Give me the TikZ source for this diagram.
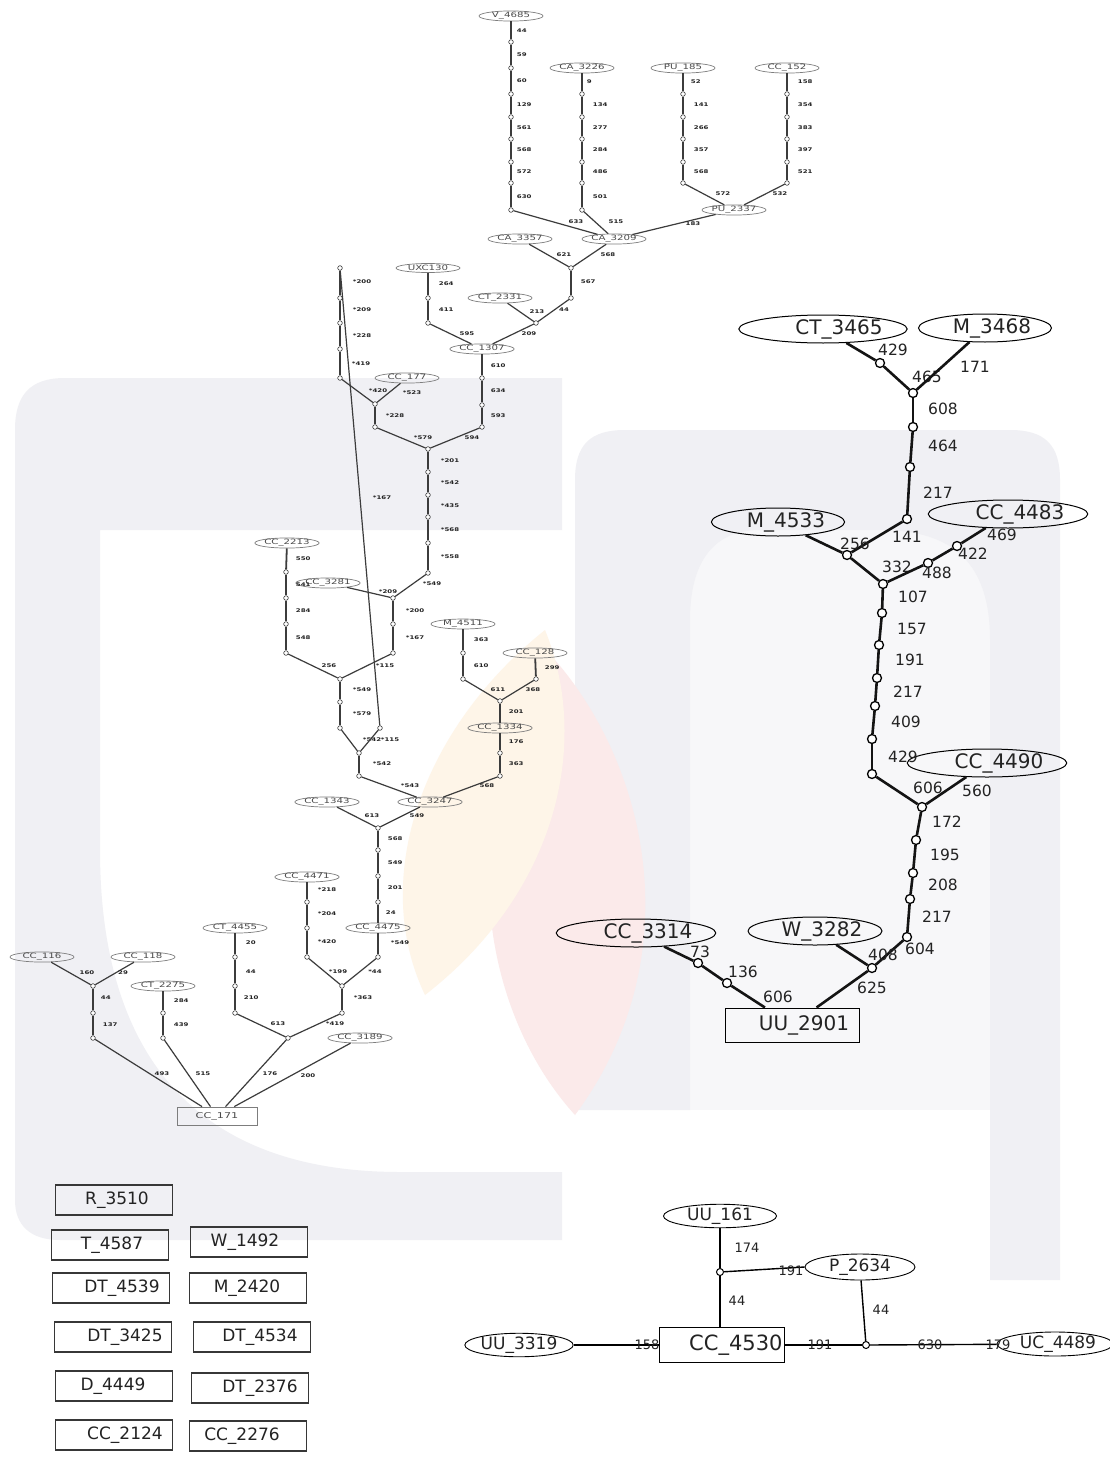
\documentclass[tikz,border=0pt]{standalone}
\usepackage{fontspec}
\setmainfont{DejaVu Sans}
\newfontfamily\stf[FakeStretch=1.4]{DejaVu Sans}
\usetikzlibrary{shapes.geometric}
\definecolor{wmg}{RGB}{240,240,244}
\definecolor{wml}{RGB}{247,247,249}
\definecolor{wmp}{RGB}{251,234,234}
\definecolor{wmy}{RGB}{254,245,232}
\definecolor{snline}{RGB}{125,125,125}
\definecolor{sntext}{RGB}{75,75,75}
\definecolor{sedge}{RGB}{60,60,60}
\definecolor{slab}{RGB}{35,35,35}
\definecolor{bline}{RGB}{20,20,20}
\definecolor{btext}{RGB}{35,35,35}
\definecolor{lgline}{RGB}{55,55,55}
\tikzset{
  sn/.style={ellipse, draw=snline, line width=0.7pt, minimum width=64pt, minimum height=9pt, inner sep=0pt, font=\stf\fontsize{7.3}{8}\selectfont, text=sntext},
  srect/.style={rectangle, draw=snline, line width=0.8pt, minimum width=80pt, minimum height=18pt, inner sep=0pt, font=\stf\fontsize{8}{9}\selectfont, text=sntext},
  sc/.style={circle, draw=sedge, fill=white, line width=0.6pt, minimum size=4.6pt, inner sep=0pt},
  se/.style={draw=sedge, line width=1.2pt},
  sev/.style={draw=sedge, line width=1.8pt},
  sl/.style={font=\stf\bfseries\fontsize{5}{6}\selectfont, text=slab, inner sep=0pt},
  bn/.style={ellipse, draw=black, line width=1pt, minimum width=133pt, minimum height=28pt, inner sep=0pt, font=\fontsize{20}{22}\selectfont, text=btext},
  bc/.style={circle, draw=black, fill=white, line width=1.3pt, minimum size=9pt, inner sep=0pt},
  be/.style={draw=bline, line width=2.6pt},
  bl/.style={font=\fontsize{15.5}{17}\selectfont, text=btext, inner sep=0pt},
  gn/.style={ellipse, draw=black, line width=0.9pt, inner sep=0pt, font=\fontsize{17}{19}\selectfont, text=btext},
  gc/.style={circle, draw=black, fill=white, line width=1pt, minimum size=7pt, inner sep=0pt},
  ge/.style={draw=black, line width=1.4pt},
  gl/.style={font=\fontsize{13}{15}\selectfont, text=btext, inner sep=0pt},
  lg/.style={rectangle, draw=lgline, line width=1.3pt, minimum width=117pt, minimum height=30pt, inner sep=0pt, font=\fontsize{17}{19}\selectfont, text=btext}
}
\newcommand\SN[3]{\node[sn] (#1) at (#2) {#3};}
\newcommand\SC[2]{\node[sc] (#1) at (#2) {};}
\newcommand\SE[4]{\draw[se] (#1) -- (#2) node[sl] (l#1#2) at (#3) {#4};}
\newcommand\SV[4]{\draw[sev] (#1) -- (#2) node[sl,anchor=west] (l#1#2) at (#3) {#4};}
\newcommand\BN[4]{\node[bn] (#1) at (#2) {\hspace*{#3}#4};}
\newcommand\BC[2]{\node[bc] (#1) at (#2) {};}
\newcommand\BE[4]{\draw[be] (#1) -- (#2) node[bl] (l#1#2) at (#3) {#4};}
\newcommand\LG[4]{\node[lg] (#1) at (#2) {\hspace*{#3}#4};}
\begin{document}
\begin{tikzpicture}[x=1pt,y=-1pt]
\useasboundingbox (0,0) rectangle (1110,1458);
\fill[white] (0,0) rectangle (1110,1458);
% ---- watermark ----
\fill[wmg] (15,1200) -- (15,430) .. controls (15,395) and (30,378) .. (65,378) -- (562,378) -- (562,530) -- (100,530) -- (100,850) .. controls (100,1060) and (200,1172) .. (400,1172) -- (562,1172) -- (562,1240) -- (60,1240) .. controls (30,1240) and (15,1225) .. (15,1200) -- cycle;
\fill[wml] (690,530) rectangle (990,1110);
\fill[wmg] (575,1110) -- (575,480) .. controls (575,445) and (590,430) .. (625,430) -- (1010,430) .. controls (1045,430) and (1060,445) .. (1060,480) -- (1060,1280) -- (990,1280) -- (990,640) .. controls (990,565) and (955,530) .. (880,530) -- (760,530) .. controls (715,530) and (690,560) .. (690,620) -- (690,1110) -- cycle;
\fill[wmp] (555,660) .. controls (650,770) and (690,960) .. (575,1115) .. controls (480,1010) and (450,820) .. (555,660) -- cycle;
\fill[wmy] (545,630) .. controls (590,740) and (560,890) .. (425,995) .. controls (370,880) and (420,730) .. (545,630) -- cycle;
% ---- upper-left tree: nodes ----
\SN{v4685}{511,16}{V\_4685}
\SN{ca3226}{582,68}{CA\_3226}
\SN{pu185}{683,68}{PU\_185}
\SN{cc152}{787,68}{CC\_152}
\SN{pu2337}{734,210}{PU\_2337}
\SN{ca3209}{614,239}{CA\_3209}
\SN{ca3357}{520,239}{CA\_3357}
\SN{ct2331}{500,298}{CT\_2331}
\SN{uxc130}{428,268}{UXC130}
\SN{cc1307}{482,349}{CC\_1307}
\SN{cc177}{407,378}{CC\_177}
\SN{cc2213}{287,543}{CC\_2213}
\SN{cc3281}{328,583}{CC\_3281}
\SN{m4511}{463,624}{M\_4511}
\SN{cc128}{535,653}{CC\_128}
\SN{cc1334}{500,728}{CC\_1334}
\SN{cc1343}{327,802}{CC\_1343}
\SN{cc3247}{430,802}{CC\_3247}
\SN{cc4471}{307,877}{CC\_4471}
\SN{cc4475}{378,928}{CC\_4475}
\SN{ct4455}{235,928}{CT\_4455}
\SN{cc116}{42,957}{CC\_116}
\SN{cc118}{143,957}{CC\_118}
\SN{ct2275}{163,986}{CT\_2275}
\SN{cc3189}{360,1038}{CC\_3189}
\node[srect] (cc171) at (217,1116) {CC\_171};
\SC{v1}{511,42}\SC{v2}{511,68}\SC{v3}{511,94}\SC{v4}{511,117}
\SC{v5}{511,139}\SC{v6}{511,162}\SC{v7}{511,183}\SC{v8}{511,210}
\SC{a1}{582,94}\SC{a2}{582,117}\SC{a3}{582,139}\SC{a4}{582,162}\SC{a5}{582,183}\SC{a6}{582,210}
\SC{p1}{683,94}\SC{p2}{683,117}\SC{p3}{683,139}\SC{p4}{683,162}\SC{p5}{683,183}
\SC{q1}{787,94}\SC{q2}{787,117}\SC{q3}{787,139}\SC{q4}{787,162}\SC{q5}{787,183}
\SC{j1}{571,268}\SC{c1}{571,298}\SC{j2}{536,323}
\SC{u1}{428,298}\SC{u2}{428,323}
\SC{k1}{482,378}\SC{k2}{482,405}\SC{k3}{482,427}\SC{j3}{428,449}
\SC{t0}{340,268}\SC{t1}{340,298}\SC{t2}{340,323}\SC{t3}{340,349}\SC{t4}{340,378}
\SC{j4}{375,404}\SC{t5}{375,427}\SC{r1}{380,728}
\SC{m1}{428,472}\SC{m2}{428,495}\SC{m3}{428,517}\SC{m4}{428,543}\SC{m5}{428,573}
\SC{j5}{393,598}\SC{n1}{393,624}\SC{n2}{393,653}\SC{j6}{340,679}
\SC{d1}{286,572}\SC{d2}{286,598}\SC{d3}{286,624}\SC{d4}{286,653}
\SC{o1}{340,702}\SC{o2}{340,728}\SC{j7}{359,753}\SC{o3}{359,776}
\SC{e1}{463,653}\SC{e2}{463,679}\SC{j8}{500,701}\SC{f1}{536,679}
\SC{g1}{500,753}\SC{g2}{500,776}
\SC{j9}{378,828}\SC{h1}{378,850}\SC{h2}{378,876}\SC{h3}{378,902}\SC{h4}{378,957}
\SC{i1}{307,902}\SC{i2}{307,928}\SC{i3}{307,957}
\SC{j10}{342,986}\SC{w1}{342,1013}\SC{j11}{288,1038}
\SC{x1}{235,957}\SC{x2}{235,986}\SC{x3}{235,1013}
\SC{j12}{93,986}\SC{y1}{93,1013}\SC{y2}{93,1038}
\SC{z1}{163,1013}\SC{z2}{163,1038}
% ---- upper-left tree: edges ----
\SV{v4685}{v1}{516,31}{44}
\SV{v1}{v2}{516,55}{59}
\SV{v2}{v3}{516,81}{60}
\SV{v3}{v4}{516,105}{129}
\SV{v4}{v5}{516,128}{561}
\SV{v5}{v6}{516,150}{568}
\SV{v6}{v7}{516,172}{572}
\SV{v7}{v8}{516,197}{630}
\SE{v8}{ca3209}{576,222}{633}
\SV{ca3226}{a1}{586,82}{9}
\SV{a1}{a2}{592,105}{134}
\SV{a2}{a3}{592,128}{277}
\SV{a3}{a4}{592,150}{284}
\SV{a4}{a5}{592,172}{486}
\SV{a5}{a6}{592,197}{501}
\SE{a6}{ca3209}{616,222}{515}
\SV{pu185}{p1}{690,82}{52}
\SV{p1}{p2}{693,105}{141}
\SV{p2}{p3}{693,128}{266}
\SV{p3}{p4}{693,150}{357}
\SV{p4}{p5}{693,172}{568}
\SE{p5}{pu2337}{723,194}{572}
\SV{cc152}{q1}{797,82}{158}
\SV{q1}{q2}{797,105}{354}
\SV{q2}{q3}{797,128}{383}
\SV{q3}{q4}{797,150}{397}
\SV{q4}{q5}{797,172}{521}
\SE{q5}{pu2337}{780,194}{532}
\SE{pu2337}{ca3209}{693,224}{183}
\SE{ca3357}{j1}{564,255}{621}
\SE{ca3209}{j1}{608,255}{568}
\SV{j1}{c1}{580,282}{567}
\SE{c1}{j2}{564,310}{44}
\SE{ct2331}{j2}{537,312}{213}
\SE{j2}{cc1307}{529,334}{209}
\SV{uxc130}{u1}{438,284}{264}
\SV{u1}{u2}{438,310}{411}
\SE{u2}{cc1307}{467,334}{595}
\SV{cc1307}{k1}{490,366}{610}
\SV{k1}{k2}{490,391}{634}
\SV{k2}{k3}{490,416}{593}
\SE{k3}{j3}{472,438}{594}
\SV{t0}{t1}{352,282}{*200}
\SV{t1}{t2}{352,310}{*209}
\SV{t2}{t3}{352,336}{*228}
\SV{t3}{t4}{351,364}{*419}
\SE{t4}{j4}{378,391}{*420}
\SE{cc177}{j4}{412,393}{*523}
\SV{j4}{t5}{385,416}{*228}
\SE{t5}{j3}{423,438}{*579}
\SE{t0}{r1}{382,498}{*167}
\SV{j3}{m1}{440,461}{*201}
\SV{m1}{m2}{440,483}{*542}
\SV{m2}{m3}{440,506}{*435}
\SV{m3}{m4}{440,530}{*568}
\SV{m4}{m5}{440,557}{*558}
\SE{m5}{j5}{432,584}{*549}
\SE{cc3281}{j5}{388,592}{*209}
\SV{j5}{n1}{405,611}{*200}
\SV{n1}{n2}{405,638}{*167}
\SE{n2}{j6}{385,666}{*115}
\SV{cc2213}{d1}{295,559}{550}
\SV{d1}{d2}{295,585}{541}
\SV{d2}{d3}{295,611}{284}
\SV{d3}{d4}{295,638}{548}
\SE{d4}{j6}{329,666}{256}
\SV{j6}{o1}{352,690}{*549}
\SV{o1}{o2}{352,714}{*579}
\SE{o2}{j7}{372,740}{*542}
\SE{r1}{j7}{390,740}{*115}
\SV{j7}{o3}{372,764}{*542}
\SE{o3}{cc3247}{410,786}{*543}
\SV{m4511}{e1}{473,640}{363}
\SV{e1}{e2}{473,666}{610}
\SE{e2}{j8}{498,690}{611}
\SV{cc128}{f1}{544,668}{299}
\SE{f1}{j8}{533,690}{368}
\SV{j8}{cc1334}{508,712}{201}
\SV{cc1334}{g1}{508,742}{176}
\SV{g1}{g2}{508,764}{363}
\SE{g2}{cc3247}{487,786}{568}
\SE{cc1343}{j9}{372,816}{613}
\SE{cc3247}{j9}{417,816}{549}
\SV{j9}{h1}{387,839}{568}
\SV{h1}{h2}{387,863}{549}
\SV{h2}{h3}{387,888}{201}
\SV{h3}{cc4475}{385,913}{24}
\SV{cc4475}{h4}{390,943}{*549}
\SV{cc4471}{i1}{317,890}{*218}
\SV{i1}{i2}{317,914}{*204}
\SV{i2}{i3}{317,942}{*420}
\SE{i3}{j10}{338,972}{*199}
\SE{h4}{j10}{375,972}{*44}
\SV{j10}{w1}{353,998}{*363}
\SE{w1}{j11}{335,1024}{*419}
\SV{ct4455}{x1}{245,943}{20}
\SV{x1}{x2}{245,972}{44}
\SV{x2}{x3}{243,998}{210}
\SE{x3}{j11}{278,1024}{613}
\SE{j11}{cc171}{270,1074}{176}
\SE{cc3189}{cc171}{308,1076}{200}
\SE{cc116}{j12}{87,973}{160}
\SE{cc118}{j12}{123,973}{29}
\SV{j12}{y1}{100,998}{44}
\SV{y1}{y2}{102,1025}{137}
\SE{y2}{cc171}{162,1074}{493}
\SV{ct2275}{z1}{173,1001}{284}
\SV{z1}{z2}{173,1025}{439}
\SE{z2}{cc171}{203,1074}{515}
% ---- right tree ----
\BN{ct3465}{823,329}{32pt}{CT\_3465}
\BN{m3468}{985,328}{14pt}{M\_3468}
\BN{m4533}{778,522}{16pt}{M\_4533}
\BN{cc4483}{1008,514}{24pt}{CC\_4483}
\BN{cc4490}{987,763}{24pt}{CC\_4490}
\BN{w3282}{815,931}{14pt}{W\_3282}
\BN{cc3314}{636,933}{24pt}{CC\_3314}
\node[rectangle, draw=black, line width=1pt, minimum width=134pt, minimum height=34pt, inner sep=0pt, font=\fontsize{20}{22}\selectfont, text=btext] (uu2901) at (792,1025) {\hspace*{24pt}UU\_2901};
\BC{r1a}{880,363}\BC{rj1}{913,393}\BC{r2}{913,427}\BC{r3}{910,467}\BC{r4}{907,519}
\BC{r5}{847,555}\BC{rj2}{883,584}\BC{r6}{957,546}\BC{r7}{928,563}
\BC{r8}{882,613}\BC{r9}{879,645}\BC{r10}{877,678}\BC{r11}{875,706}\BC{r12}{872,739}\BC{r13}{872,774}
\BC{rj3}{922,807}\BC{r14}{916,840}\BC{r15}{913,873}\BC{r16}{910,899}\BC{r17}{907,937}
\BC{rj4}{872,968}\BC{r18}{698,963}\BC{r19}{727,983}
\BE{ct3465}{r1a}{893,350}{429}
\BE{r1a}{rj1}{927,377}{465}
\BE{m3468}{rj1}{975,367}{171}
\BE{rj1}{r2}{943,409}{608}
\BE{r2}{r3}{943,446}{464}
\BE{r3}{r4}{938,493}{217}
\BE{r4}{r5}{907,537}{141}
\BE{m4533}{r5}{855,544}{256}
\BE{r5}{rj2}{897,567}{332}
\BE{cc4483}{r6}{1002,535}{469}
\BE{r6}{r7}{973,554}{422}
\BE{r7}{rj2}{937,573}{488}
\BE{rj2}{r8}{913,597}{107}
\BE{r8}{r9}{912,629}{157}
\BE{r9}{r10}{910,660}{191}
\BE{r10}{r11}{908,692}{217}
\BE{r11}{r12}{906,722}{409}
\BE{r12}{r13}{903,757}{429}
\BE{r13}{rj3}{928,788}{606}
\BE{cc4490}{rj3}{977,791}{560}
\BE{rj3}{r14}{947,822}{172}
\BE{r14}{r15}{945,855}{195}
\BE{r15}{r16}{943,885}{208}
\BE{r16}{r17}{937,917}{217}
\BE{r17}{rj4}{920,949}{604}
\BE{w3282}{rj4}{883,955}{408}
\BE{rj4}{uu2901}{872,988}{625}
\BE{cc3314}{r18}{700,952}{73}
\BE{r18}{r19}{743,972}{136}
\BE{r19}{uu2901}{778,997}{606}
% ---- bottom graph ----
\node[gn, minimum width=113pt, minimum height=23pt] (uu161) at (720,1216) {UU\_161};
\node[gn, minimum width=110pt, minimum height=26pt] (p2634) at (860,1267) {P\_2634};
\node[gn, minimum width=107pt, minimum height=23pt] (uu3319) at (519,1345) {UU\_3319};
\node[gn, minimum width=108pt, minimum height=24pt] (uc4489) at (1055,1344) {\hspace*{6pt}UC\_4489};
\node[rectangle, draw=black, line width=0.9pt, minimum height=35pt, text width=121pt, align=right, inner xsep=2pt, inner ysep=0pt, font=\fontsize{21}{23}\selectfont, text=btext] (cc4530) at (722,1345) {CC\_4530};
\node[gc] (bj1) at (720,1272) {};
\node[gc] (bj2) at (866,1345) {};
\draw[ge] (uu161) -- (bj1) node[gl] (luu161bj1) at (747,1248) {174};
\draw[ge] (bj1) -- (p2634.west) node[gl] (lbj1p2634) at (791,1271) {191};
\draw[ge] (bj1) -- (bj1 |- cc4530.north) node[gl] (lbj1cc4530) at (737,1301) {44};
\draw[ge] (uu3319) -- (cc4530) node[gl] (luu3319cc4530) at (647,1345) {158};
\draw[ge] (cc4530) -- (bj2) node[gl] (lcc4530bj2) at (820,1345) {191};
\draw[ge] (p2634) -- (bj2) node[gl] (lp2634bj2) at (881,1310) {44};
\draw[ge] (bj2) -- (uc4489) node[gl] (lbj2uc4489a) at (930,1345) {630} node[gl] (lbj2uc4489b) at (998,1345) {179};
% ---- legend boxes ----
\LG{r3510}{114,1200}{6pt}{R\_3510}
\LG{t4587}{110,1245}{4pt}{T\_4587}
\LG{w1492}{249,1242}{-8pt}{W\_1492}
\LG{dt4539}{111,1288}{22pt}{DT\_4539}
\LG{m2420}{248,1288}{-2pt}{M\_2420}
\LG{dt3425}{113,1337}{24pt}{DT\_3425}
\LG{dt4534}{252,1337}{16pt}{DT\_4534}
\LG{d4449}{114,1386}{-2pt}{D\_4449}
\LG{dt2376}{250,1388}{20pt}{DT\_2376}
\LG{cc2124}{114,1435}{22pt}{CC\_2124}
\LG{cc2276}{248,1436}{-12pt}{CC\_2276}
\end{tikzpicture}
\end{document}
